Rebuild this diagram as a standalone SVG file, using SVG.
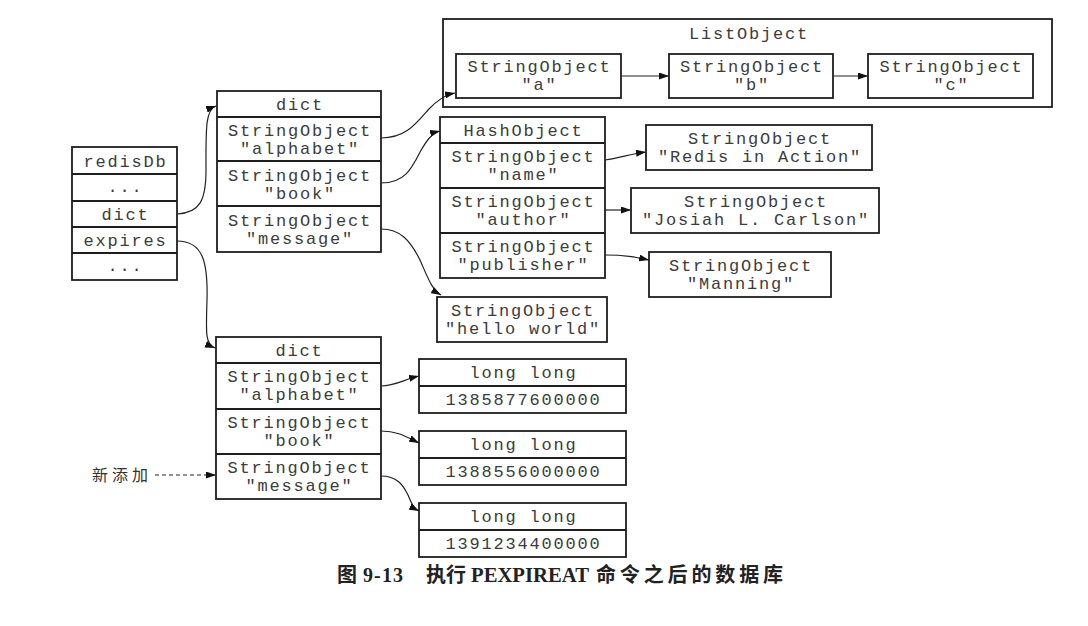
<svg xmlns="http://www.w3.org/2000/svg" width="1088" height="626" viewBox="0 0 1088 626">
<defs>
<style>
.box{fill:#fff;stroke:#1e1e1e;stroke-width:1.8}
.t{font-family:"Liberation Mono","DejaVu Sans Mono",monospace;font-size:17px;letter-spacing:1.8px;fill:#3c3c3c;text-anchor:middle}
.c{fill:none;stroke:#222;stroke-width:1.2}
.cap{font-family:"Liberation Serif","Noto Sans CJK SC",serif;font-size:20px;font-weight:bold;fill:#222}
.capz{font-family:"Noto Sans CJK SC",sans-serif;font-size:20px;font-weight:bold;fill:#222}
.cjk{font-family:"Noto Sans CJK SC",sans-serif;fill:#333}
</style>
<marker id="ah" markerUnits="userSpaceOnUse" markerWidth="10" markerHeight="7" refX="10" refY="3.5" orient="auto">
<path d="M0,0 L10,3.5 L0,7 z" fill="#111"/>
</marker>
</defs>
<rect width="1088" height="626" fill="#fff"/>

<g id="redisDb">
<rect class="box" x="72" y="147" width="105" height="133"/>
<line class="box" x1="72" y1="174" x2="177" y2="174"/>
<line class="box" x1="72" y1="201" x2="177" y2="201"/>
<line class="box" x1="72" y1="227" x2="177" y2="227"/>
<line class="box" x1="72" y1="253" x2="177" y2="253"/>
<text class="t" x="125.4" y="166.5">redisDb</text>
<text class="t" x="125.4" y="192">...</text>
<text class="t" x="125.4" y="220">dict</text>
<text class="t" x="125.4" y="246">expires</text>
<text class="t" x="125.4" y="271">...</text>
</g>

<g id="dict-top">
<rect class="box" x="217" y="91" width="164" height="161"/>
<line class="box" x1="217" y1="117" x2="381" y2="117"/>
<line class="box" x1="217" y1="161" x2="381" y2="161"/>
<line class="box" x1="217" y1="206" x2="381" y2="206"/>
<text class="t" x="299.9" y="110">dict</text>
<text class="t" x="299.9" y="136">StringObject</text>
<text class="t" x="299.9" y="154">"alphabet"</text>
<text class="t" x="299.9" y="181">StringObject</text>
<text class="t" x="299.9" y="199">"book"</text>
<text class="t" x="299.9" y="226">StringObject</text>
<text class="t" x="299.9" y="244">"message"</text>
</g>

<g id="listObject">
<rect class="box" x="443" y="19" width="609" height="88"/>
<text class="t" x="748.9" y="39">ListObject</text>
</g>
<g id="str-a">
<rect class="box" x="456" y="54" width="165" height="44"/>
<text class="t" x="539.4" y="72">StringObject</text>
<text class="t" x="539.4" y="90">"a"</text>
</g>
<g id="str-b">
<rect class="box" x="669" y="54" width="164" height="44"/>
<text class="t" x="751.9" y="72">StringObject</text>
<text class="t" x="751.9" y="90">"b"</text>
</g>
<g id="str-c">
<rect class="box" x="868" y="54" width="165" height="44"/>
<text class="t" x="951.4" y="72">StringObject</text>
<text class="t" x="951.4" y="90">"c"</text>
</g>

<g id="hashObject">
<rect class="box" x="440" y="117" width="165" height="161"/>
<line class="box" x1="440" y1="143" x2="605" y2="143"/>
<line class="box" x1="440" y1="188" x2="605" y2="188"/>
<line class="box" x1="440" y1="233" x2="605" y2="233"/>
<text class="t" x="523.4" y="136">HashObject</text>
<text class="t" x="523.4" y="162">StringObject</text>
<text class="t" x="523.4" y="180">"name"</text>
<text class="t" x="523.4" y="207">StringObject</text>
<text class="t" x="523.4" y="225">"author"</text>
<text class="t" x="523.4" y="252">StringObject</text>
<text class="t" x="523.4" y="270">"publisher"</text>
</g>

<g id="str-redis">
<rect class="box" x="646" y="125" width="226" height="45"/>
<text class="t" x="759.9" y="144">StringObject</text>
<text class="t" x="759.9" y="162">"Redis in Action"</text>
</g>
<g id="str-josiah">
<rect class="box" x="631" y="188" width="248" height="45"/>
<text class="t" x="755.9" y="207">StringObject</text>
<text class="t" x="755.9" y="225">"Josiah L. Carlson"</text>
</g>
<g id="str-manning">
<rect class="box" x="649" y="252" width="182" height="45"/>
<text class="t" x="740.9" y="271">StringObject</text>
<text class="t" x="740.9" y="289">"Manning"</text>
</g>
<g id="str-hello">
<rect class="box" x="437" y="297" width="170" height="45"/>
<text class="t" x="522.9" y="316">StringObject</text>
<text class="t" x="522.9" y="334">"hello world"</text>
</g>

<g id="dict-expires">
<rect class="box" x="216" y="337" width="165" height="162"/>
<line class="box" x1="216" y1="363" x2="381" y2="363"/>
<line class="box" x1="216" y1="409" x2="381" y2="409"/>
<line class="box" x1="216" y1="454" x2="381" y2="454"/>
<text class="t" x="299.4" y="356">dict</text>
<text class="t" x="299.4" y="382">StringObject</text>
<text class="t" x="299.4" y="400">"alphabet"</text>
<text class="t" x="299.4" y="428">StringObject</text>
<text class="t" x="299.4" y="446">"book"</text>
<text class="t" x="299.4" y="473">StringObject</text>
<text class="t" x="299.4" y="491">"message"</text>
</g>

<g id="ll-1">
<rect class="box" x="419" y="359" width="207" height="54"/>
<line class="box" x1="419" y1="386" x2="626" y2="386"/>
<text class="t" x="523.4" y="378">long long</text>
<text class="t" x="523.4" y="405">1385877600000</text>
</g>
<g id="ll-2">
<rect class="box" x="419" y="431" width="207" height="54"/>
<line class="box" x1="419" y1="458" x2="626" y2="458"/>
<text class="t" x="523.4" y="450">long long</text>
<text class="t" x="523.4" y="477">1388556000000</text>
</g>
<g id="ll-3">
<rect class="box" x="419" y="503" width="207" height="54"/>
<line class="box" x1="419" y1="530" x2="626" y2="530"/>
<text class="t" x="523.4" y="522">long long</text>
<text class="t" x="523.4" y="549">1391234400000</text>
</g>

<g id="label-new">
<text class="cjk" x="92" y="481" font-size="16" letter-spacing="4">新添加</text>
</g>

<g id="connectors">
<path class="c" marker-end="url(#ah)" d="M177,214 C200,213 206,200 206,170 C206,130 205,110 216,106"/>
<path class="c" marker-end="url(#ah)" d="M177,241 C203,241 208,262 207,300 C206,333 205,344 215,348"/>
<path class="c" marker-end="url(#ah)" d="M381,138 C405,138 415,125 428,110 C437,100 445,95 455,93"/>
<path class="c" marker-end="url(#ah)" d="M381,183 C405,183 412,168 420,152 C427,140 432,133 440,131"/>
<path class="c" marker-end="url(#ah)" d="M381,229 C400,229 410,240 420,260 C428,278 432,290 441,295"/>
<path class="c" marker-end="url(#ah)" d="M605,160 C620,158 630,154 646,152"/>
<path class="c" marker-end="url(#ah)" d="M605,210 L631,210"/>
<path class="c" marker-end="url(#ah)" d="M605,255 C625,255 635,257 649,260"/>
<path class="c" marker-end="url(#ah)" d="M621,76 L669,76"/>
<path class="c" marker-end="url(#ah)" d="M833,76 L868,76"/>
<path class="c" marker-end="url(#ah)" d="M381,386 C395,386 403,380 419,376"/>
<path class="c" marker-end="url(#ah)" d="M381,431 C397,431 405,436 419,443"/>
<path class="c" marker-end="url(#ah)" d="M381,476 C397,476 403,485 408,495 C411,502 413,508 419,511"/>
<path class="c" marker-end="url(#ah)" stroke-dasharray="4,3" d="M155,475 L216,475"/>
</g>

<g id="caption">
<text class="capz" x="337" y="582">图</text>
<text class="cap" x="363" y="582" textLength="40" lengthAdjust="spacing">9-13</text>
<text class="capz" x="426" y="582">执行</text>
<text class="cap" x="471" y="582" textLength="118" lengthAdjust="spacingAndGlyphs">PEXPIREAT</text>
<text class="capz" x="596" y="582" textLength="187" lengthAdjust="spacing">命令之后的数据库</text>
</g>
</svg>
